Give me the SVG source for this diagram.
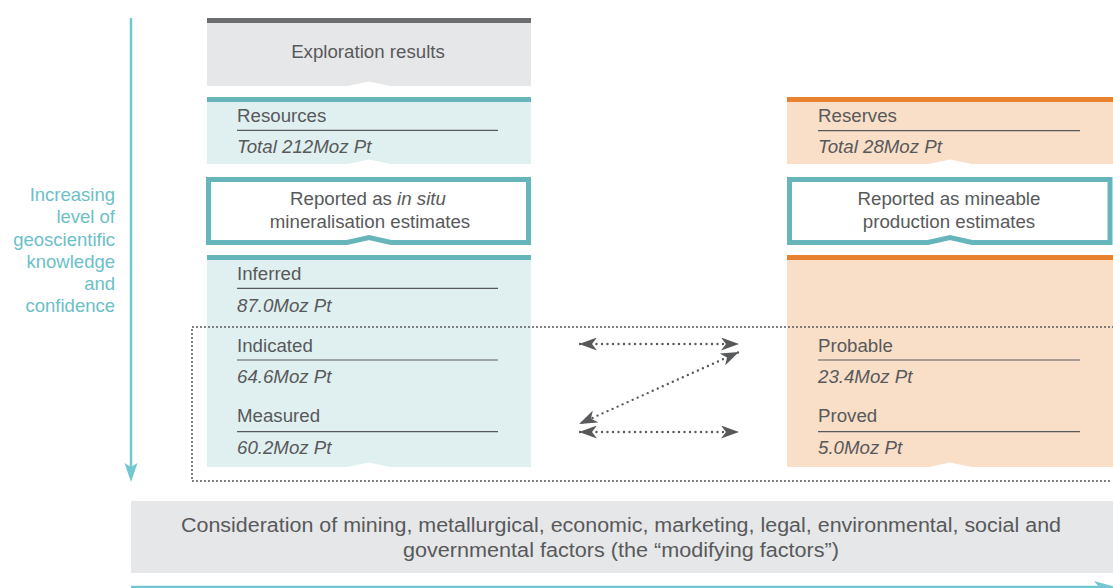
<svg xmlns="http://www.w3.org/2000/svg" width="1113" height="588" viewBox="0 0 1113 588">
<defs>
<style>
.t{font-family:"Liberation Sans",Arial,sans-serif;font-size:18.7px;fill:#58595b}
.i{font-style:italic}
.c{text-anchor:middle}
.b{font-size:20px}
.side{font-family:"Liberation Sans",Arial,sans-serif;font-size:18.5px;fill:#6cc0c8;text-anchor:end}
.rule{stroke:#58595b;stroke-width:1.2}
.teal{fill:#e0f0f0}
.peach{fill:#f9dfc8}
.gray{fill:#e6e7e8}
.tbar{fill:#66b5bb}
.obar{fill:#e8822e}
.notch{fill:#ffffff}
.frame{fill:#ffffff;stroke:#66b5bb;stroke-width:5}
.dot{fill:none;stroke:#58595b;stroke-width:2;stroke-linecap:round;stroke-dasharray:0 4}
.dota{fill:none;stroke:#58595b;stroke-width:2.4;stroke-linecap:round;stroke-dasharray:0 5.5}
.axis{stroke:#72c7d0;stroke-width:2.5;fill:none}
</style>
<marker id="ah" viewBox="0 0 18 13" refX="17" refY="6.5" markerWidth="18" markerHeight="13" markerUnits="userSpaceOnUse" orient="auto-start-reverse">
<path d="M0,0 L18,6.5 L0,13 L5,6.5 Z" fill="#58595b"/>
</marker>
</defs>

<g id="axes">
<line class="axis" x1="131" y1="18" x2="131" y2="468"/>
<path d="M124.5,463 L131,467 L137.5,463 L131,482 Z" fill="#72c7d0"/>
<line class="axis" x1="131" y1="587" x2="1100" y2="587"/>
<path d="M1094,581 L1099,587 L1094,593 L1116,587 Z" fill="#72c7d0"/>
</g>

<g id="side-label">
<text class="side" x="115" y="201">Increasing</text>
<text class="side" x="115" y="223.3">level of</text>
<text class="side" x="115" y="245.5">geoscientific</text>
<text class="side" x="115" y="267.7">knowledge</text>
<text class="side" x="115" y="290">and</text>
<text class="side" x="115" y="312.2">confidence</text>
</g>

<g id="exploration">
<rect class="gray" x="207" y="18" width="324" height="68"/>
<rect x="207" y="18" width="324" height="5" fill="#6d6e71"/>
<path class="notch" d="M345,86.5 L369,81.5 L393,86.5 Z"/>
<text class="t c" x="368" y="58">Exploration results</text>
</g>

<g id="resources">
<rect class="teal" x="207" y="97" width="324" height="67"/>
<rect class="tbar" x="207" y="97" width="324" height="5"/>
<path class="notch" d="M345,164.5 L369,159.5 L393,164.5 Z"/>
<text class="t" x="237" y="121.5">Resources</text>
<line class="rule" x1="237" y1="130.3" x2="498" y2="130.3"/>
<text class="t i" x="237" y="153.3">Total 212Moz Pt</text>
</g>

<g id="reported-insitu">
<path class="frame" d="M208.5,179.5 H528.5 V242.5 H391 L369,237.5 L347,242.5 H208.5 Z"/>
<text class="t c" x="368" y="205"><tspan>Reported as </tspan><tspan class="i">in situ</tspan></text>
<text class="t c" x="370" y="228">mineralisation estimates</text>
</g>

<g id="resource-classes">
<rect class="teal" x="207" y="255" width="324" height="212"/>
<rect class="tbar" x="207" y="255" width="324" height="5"/>
<path class="notch" d="M345,467.5 L369,462.5 L393,467.5 Z"/>
<text class="t" x="237" y="280">Inferred</text>
<line class="rule" x1="237" y1="288.3" x2="498" y2="288.3"/>
<text class="t i" x="237" y="311.7">87.0Moz Pt</text>
<text class="t" x="237" y="351.7">Indicated</text>
<line class="rule" x1="237" y1="360" x2="498" y2="360"/>
<text class="t i" x="237" y="383.3">64.6Moz Pt</text>
<text class="t" x="237" y="422.3">Measured</text>
<line class="rule" x1="237" y1="431.7" x2="498" y2="431.7"/>
<text class="t i" x="237" y="454.3">60.2Moz Pt</text>
</g>

<g id="reserves">
<rect class="peach" x="787" y="97" width="326" height="67"/>
<rect class="obar" x="787" y="97" width="326" height="5"/>
<path class="notch" d="M926,164.5 L950,159.5 L974,164.5 Z"/>
<text class="t" x="818" y="121.5">Reserves</text>
<line class="rule" x1="818" y1="130.7" x2="1080" y2="130.7"/>
<text class="t i" x="818" y="153.3">Total 28Moz Pt</text>
</g>

<g id="reported-mineable">
<path class="frame" d="M789.5,179.5 H1110 V242.5 H972 L950,237.5 L928,242.5 H789.5 Z"/>
<text class="t c" x="949" y="205">Reported as mineable</text>
<text class="t c" x="949" y="228">production estimates</text>
</g>

<g id="reserve-classes">
<rect class="peach" x="787" y="255" width="326" height="212"/>
<rect class="obar" x="787" y="255" width="326" height="5"/>
<path class="notch" d="M926,467.5 L950,462.5 L974,467.5 Z"/>
<text class="t" x="818" y="351.7">Probable</text>
<line class="rule" x1="818" y1="360" x2="1080" y2="360"/>
<text class="t i" x="818" y="383.3">23.4Moz Pt</text>
<text class="t" x="818" y="422.3">Proved</text>
<line class="rule" x1="818" y1="431.7" x2="1080" y2="431.7"/>
<text class="t i" x="818" y="454.3">5.0Moz Pt</text>
</g>

<g id="connectors">
<path class="dot" d="M1113,327 H192 V481 H1113"/>
<line class="dota" x1="580" y1="344" x2="738" y2="344" marker-start="url(#ah)" marker-end="url(#ah)"/>
<line class="dota" x1="738" y1="352.5" x2="580" y2="423.5" marker-start="url(#ah)" marker-end="url(#ah)"/>
<line class="dota" x1="580" y1="432" x2="738" y2="432" marker-start="url(#ah)" marker-end="url(#ah)"/>
</g>

<g id="modifying-factors">
<rect class="gray" x="131" y="501" width="982" height="72"/>
<text class="t c b" x="621" y="531.5" textLength="880" lengthAdjust="spacingAndGlyphs">Consideration of mining, metallurgical, economic, marketing, legal, environmental, social and</text>
<text class="t c b" x="621" y="557" textLength="436" lengthAdjust="spacingAndGlyphs">governmental factors (the “modifying factors”)</text>
</g>
</svg>
